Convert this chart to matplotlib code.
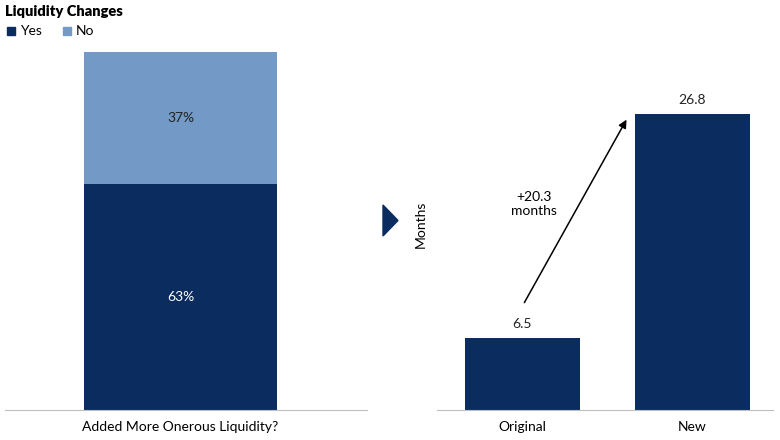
import matplotlib.pyplot as plt
from matplotlib.patches import Rectangle

plt.rcParams['font.family'] = ['Lato', 'DejaVu Sans']

navy = '#0B2C5F'
light = '#7399C6'
grey = '#BFBFBF'

# left panel data
left_cat = ['Added More Onerous Liquidity?']
yes_share = [0.63]
no_share = [0.37]

# right panel data
right_cat = ['Original', 'New']
months = [6.5, 26.8]
change_label = '+20.3\nmonths'

fig = plt.figure(figsize=(7.8, 4.4), dpi=100)
W, H = 780, 440

def fig_ax(x0, x1, y_top, y_bot):
    return fig.add_axes([x0 / W, 1 - y_bot / H, (x1 - x0) / W, (y_bot - y_top) / H])

# left stacked bar
ax1 = fig_ax(5, 367, 52, 410)
ax1.bar([0], yes_share, width=0.533, color=navy)
ax1.bar([0], no_share, bottom=yes_share, width=0.533, color=light)
for y, n in zip(yes_share, no_share):
    ax1.text(0, y / 2, f'{y:.0%}', ha='center', va='center', color='white', fontsize=10)
    ax1.text(0, y + n / 2, f'{n:.0%}', ha='center', va='center', color='#222222', fontsize=10)
ax1.set_xlim(-0.485, 0.515)
ax1.set_ylim(0, 1)
ax1.set_xticks([0])
ax1.set_xticklabels(left_cat, fontsize=10)
ax1.set_yticks([])
for s in ['top', 'right', 'left']:
    ax1.spines[s].set_visible(False)
ax1.spines['bottom'].set_color(grey)
ax1.tick_params(axis='x', length=0, pad=8)

# right bars
ax2 = fig_ax(437, 773, 52, 410)
xs = list(range(len(right_cat)))
ax2.bar(xs, months, width=0.676, color=navy)
for x, v in zip(xs, months):
    ax2.text(x, v + 0.7, f'{v}', ha='center', va='bottom', color='#222222', fontsize=10)
ax2.set_xlim(-0.503, 1.474)
ax2.set_ylim(0, 32.4)
ax2.set_xticks(xs)
ax2.set_xticklabels(right_cat, fontsize=10)
ax2.set_yticks([])
for s in ['top', 'right', 'left']:
    ax2.spines[s].set_visible(False)
ax2.spines['bottom'].set_color(grey)
ax2.tick_params(axis='x', length=0, pad=8)
ax2.set_ylabel('Months', fontsize=10)
ax2.yaxis.set_label_coords(-0.03, 0.52)

ax2.annotate('', xy=(0.62, 26.5), xytext=(0.003, 9.5),
             arrowprops=dict(arrowstyle='-|>', color='black', lw=1.1, mutation_scale=12))
ax2.text(0.067, 18.6, change_label, ha='center', va='center', fontsize=10, linespacing=1.2)

# triangle between panels
fig.patches.append(plt.Polygon([[383 / W, 1 - 205 / H], [383 / W, 1 - 236 / H], [398 / W, 1 - 220.5 / H]],
                               closed=True, transform=fig.transFigure, color=navy))

# title and legend
fig.text(5 / W, 1 - 12 / H, 'Liquidity Changes', fontsize=10.5, fontweight='heavy', va='center')
fig.patches.append(Rectangle((7 / W, 1 - 35 / H), 8 / W, 8 / H, transform=fig.transFigure, color=navy))
fig.text(20 / W, 1 - 31 / H, 'Yes', fontsize=10, va='center')
fig.patches.append(Rectangle((63 / W, 1 - 35 / H), 8 / W, 8 / H, transform=fig.transFigure, color=light))
fig.text(76 / W, 1 - 31 / H, 'No', fontsize=10, va='center')

fig.savefig('out.png', dpi=100)
